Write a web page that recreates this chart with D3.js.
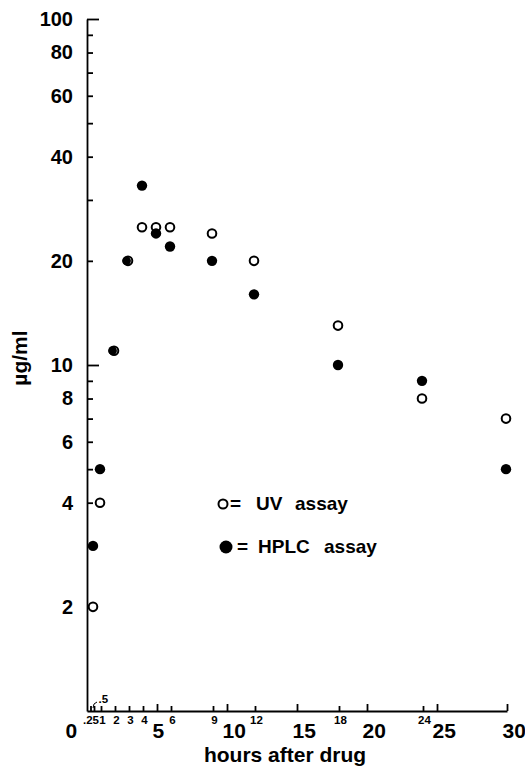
<!DOCTYPE html>
<meta charset="utf-8">
<style>
    body { margin: 0; background: #fff; }
    text { font-family: "Liberation Sans", Arial, sans-serif; font-weight: bold; fill: #000; }
    .axis path, .axis line { stroke: #000; stroke-width: 1.8; }
</style>
<body>
<script src="https://cdn.jsdelivr.net/npm/d3@7"></script>
<script>
// sample times (hours) and concentrations (µg/ml)
var hours = [0.5, 1, 2, 3, 4, 5, 6, 9, 12, 18, 24, 30];
var uv    = [2, 4, 11, 20, 25, 25, 25, 24, 20, 13, 8, 7];
var hplc  = [3, 5, 11, 20, 33, 24, 22, 20, 16, 10, 9, 5];

var yMajor = [100, 80, 60, 40, 20, 10, 8, 6, 4, 2];
var yMinor = [90, 70, 50, 30, 9, 7, 5, 3];
var xMajor = [0, 5, 10, 15, 20, 25, 30];
var xMinor = [0.25, 0.5, 1, 2, 3, 4, 6, 9, 12, 18, 24];
var xMinorLabels = [".25", ".5", "1", "2", "3", "4", "6", "9", "12", "18", "24"];

var width = 525, height = 766;

var svg = d3.select("body").append("svg")
    .attr("width", width)
    .attr("height", height);

var x = d3.scaleLinear().domain([0, 30]).range([87, 507]);
var y = d3.scaleLog().domain([1, 100]).range([711, 19]);

// y axis
var yAxis = svg.append("g")
    .attr("class", "axis")
    .attr("transform", "translate(" + x(0) + ",0)")
    .call(d3.axisLeft(y).tickValues(yMajor).tickSize(-6).tickSizeOuter(0)
        .tickPadding(14).tickFormat(d3.format("d")));
yAxis.selectAll("text").style("font-size", "20px");
yAxis.selectAll(".tick line").attr("x2", function (d) { return (d == 10 || d == 100) ? 12 : 6; });

svg.append("g")
    .attr("class", "axis")
    .attr("transform", "translate(" + x(0) + ",0)")
    .call(d3.axisLeft(y).tickValues(yMinor).tickSize(-6).tickSizeOuter(0).tickFormat(""))
    .select(".domain").remove();

// x axis
var xAxis = svg.append("g")
    .attr("class", "axis")
    .attr("transform", "translate(0," + y(1) + ")")
    .call(d3.axisBottom(x).tickValues(xMajor).tickSize(-7).tickSizeOuter(0));
xAxis.selectAll(".tick text")
    .style("font-size", "21px")
    .attr("text-anchor", "start")
    .attr("y", 27).attr("dy", null)
    .attr("x", function (d) { return d == 0 ? -22 : -5; });
xAxis.selectAll(".tick line").filter(function (d) { return d == 0; }).remove();

var xMin = svg.append("g")
    .attr("class", "axis")
    .attr("transform", "translate(0," + y(1) + ")")
    .call(d3.axisBottom(x).tickValues(xMinor).tickSize(-5).tickSizeOuter(0)
        .tickFormat(function (d, i) { return xMinorLabels[i]; }));
xMin.select(".domain").remove();
xMin.selectAll(".tick text")
    .style("font-size", "11.5px")
    .attr("y", 13).attr("dy", null)
    .attr("x", 1);
// ".5" sits above the axis with a little leader
xMin.selectAll(".tick text").filter(function (d) { return d == 0.5; })
    .attr("text-anchor", "start")
    .attr("x", 4).attr("y", -8);
xMin.selectAll(".tick text").filter(function (d) { return d == 0.25; })
    .attr("x", 0);
svg.append("path")
    .attr("d", "M" + (x(0.5) - 1) + "," + (y(1) - 3) + " q0,-5 4,-6")
    .attr("fill", "none").attr("stroke", "#000").attr("stroke-width", 1);

// axis titles
svg.append("text")
    .attr("x", 285).attr("y", 762)
    .attr("text-anchor", "middle")
    .style("font-size", "21px")
    .text("hours after drug");

svg.append("text")
    .attr("transform", "translate(27,358) rotate(-90)")
    .attr("text-anchor", "middle")
    .style("font-size", "21px")
    .text("µg/ml");

// points
var pts = hours.map(function (h, i) { return { h: h, uv: uv[i], hplc: hplc[i] }; });

svg.selectAll(".uv")
    .data(pts)
    .enter().append("circle")
    .attr("class", "uv")
    .attr("cx", function (d) { return x(d.h) - 1; })
    .attr("cy", function (d) { return y(d.uv); })
    .attr("r", 4.3)
    .attr("fill", "#fff")
    .attr("stroke", "#000")
    .attr("stroke-width", 2);

svg.selectAll(".hplc")
    .data(pts)
    .enter().append("circle")
    .attr("class", "hplc")
    .attr("cx", function (d) { return x(d.h) - 1 - (d.uv == d.hplc ? 1.5 : 0); })
    .attr("cy", function (d) { return y(d.hplc); })
    .attr("r", function (d) { return d.uv == d.hplc ? 4.4 : 5.2; })
    .attr("fill", "#000");

// legend
var lg = svg.append("g");
lg.append("circle").attr("cx", 223).attr("cy", 504).attr("r", 4.5)
    .attr("fill", "#fff").attr("stroke", "#000").attr("stroke-width", 2);
lg.append("circle").attr("cx", 226).attr("cy", 547).attr("r", 6.5).attr("fill", "#000");

var legendText = [
    { x: 230, y: 510, t: "=" }, { x: 256, y: 510, t: "UV" }, { x: 295, y: 510, t: "assay" },
    { x: 237, y: 553, t: "=" }, { x: 258, y: 553, t: "HPLC" }, { x: 324, y: 553, t: "assay" }
];
lg.selectAll("text")
    .data(legendText)
    .enter().append("text")
    .attr("x", function (d) { return d.x; })
    .attr("y", function (d) { return d.y; })
    .style("font-size", "19px")
    .text(function (d) { return d.t; });
</script>
</body>
